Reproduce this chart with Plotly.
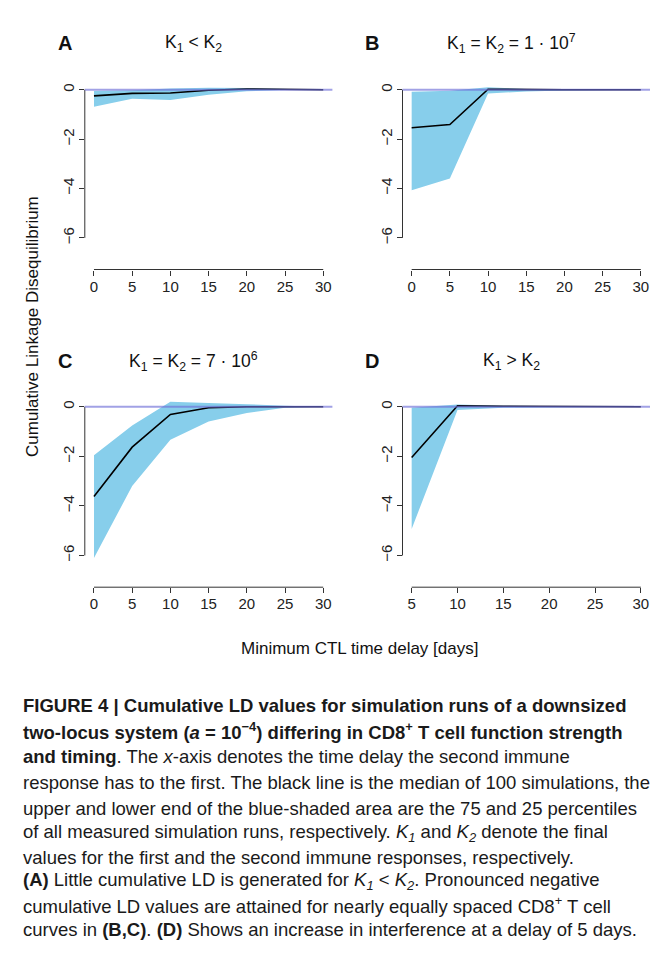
import plotly.graph_objects as go

W, H = 656, 955

# ---------------- data ----------------
delay_abc = [0, 5, 10, 15, 20, 25, 30]
delay_d = [5, 10, 15, 20, 25, 30]

median_a = [-0.25, -0.15, -0.13, -0.02, 0.03, 0.0, 0.0]
upper_a = [-0.05, -0.02, 0.05, 0.08, 0.07, 0.02, 0.0]
lower_a = [-0.69, -0.37, -0.42, -0.20, -0.06, -0.01, 0.0]

median_b = [-1.54, -1.41, 0.02, 0.0, 0.0, 0.0, 0.0]
upper_b = [-0.08, -0.04, 0.10, 0.03, 0.01, 0.0, 0.0]
lower_b = [-4.07, -3.60, -0.15, -0.07, -0.03, -0.01, 0.0]

median_c = [-3.62, -1.63, -0.31, -0.04, 0.0, 0.01, 0.0]
upper_c = [-1.96, -0.76, 0.20, 0.16, 0.10, 0.04, 0.0]
lower_c = [-6.10, -3.20, -1.33, -0.60, -0.25, -0.04, 0.0]

median_d = [-2.05, 0.04, 0.02, 0.01, 0.0, 0.0]
upper_d = [-0.04, 0.09, 0.04, 0.02, 0.01, 0.0]
lower_d = [-4.93, -0.13, -0.04, -0.02, -0.01, 0.0]

y_ticks = [0, -2, -4, -6]
titles = ["K<sub>1</sub> &lt; K<sub>2</sub>",
          "K<sub>1</sub> = K<sub>2</sub> = 1 · 10<sup>7</sup>",
          "K<sub>1</sub> = K<sub>2</sub> = 7 · 10<sup>6</sup>",
          "K<sub>1</sub> &gt; K<sub>2</sub>"]
letters = ["A", "B", "C", "D"]

caption_lines = [
    "<b>FIGURE 4 | Cumulative LD values for simulation runs of a downsized</b>",
    "<b>two-locus system (<i>a</i> = 10<sup>−4</sup>) differing in CD8<sup>+</sup> T cell function strength</b>",
    "<b>and timing</b>. The <i>x</i>-axis denotes the time delay the second immune",
    "response has to the first. The black line is the median of 100 simulations, the",
    "upper and lower end of the blue-shaded area are the 75 and 25 percentiles",
    "of all measured simulation runs, respectively. <i>K<sub>1</sub></i> and <i>K<sub>2</sub></i> denote the final",
    "values for the first and the second immune responses, respectively.",
    "<b>(A)</b> Little cumulative LD is generated for <i>K<sub>1</sub></i> &lt; <i>K<sub>2</sub></i>. Pronounced negative",
    "cumulative LD values are attained for nearly equally spaced CD8<sup>+</sup> T cell",
    "curves in <b>(B,C)</b>. <b>(D)</b> Shows an increase in interference at a delay of 5 days.",
]
caption_y = [705, 731, 756, 782, 808, 833, 857, 881, 905, 929]

# ---------------- layout helpers ----------------
def px(x):
    return x / W

def py(y):
    return 1 - y / H

FONT = "Liberation Sans, Arial, Helvetica, sans-serif"
CAPFONT = "Liberation Sans Narrow, Arial Narrow, Liberation Sans, sans-serif"
AXC = "#333333"
BAND = "#87CEEB"
ZERO = "rgba(110,110,215,0.65)"

panels = [
    dict(x=delay_abc, med=median_a, up=upper_a, lo=lower_a, xr=[-1.2, 31.2], xt=[0, 30],
         dom_x=(84.8, 332.4), dom_y=(82.8, 269.5), tx=193, ty=43, lx=65),
    dict(x=delay_abc, med=median_b, up=upper_b, lo=lower_b, xr=[-1.2, 31.2], xt=[0, 30],
         dom_x=(402.5, 650.0), dom_y=(82.8, 269.5), tx=511, ty=43, lx=372),
    dict(x=delay_abc, med=median_c, up=upper_c, lo=lower_c, xr=[-1.2, 31.2], xt=[0, 30],
         dom_x=(84.8, 332.4), dom_y=(399.8, 587.2), tx=193, ty=361, lx=65),
    dict(x=delay_d, med=median_d, up=upper_d, lo=lower_d, xr=[4, 31], xt=[5, 30],
         dom_x=(402.5, 650.0), dom_y=(399.8, 587.2), tx=511, ty=361, lx=372),
]

fig = go.Figure()
shapes = []
annotations = []

for i, p in enumerate(panels):
    n = "" if i == 0 else str(i + 1)
    xa, ya = "x" + n, "y" + n
    fig.add_trace(go.Scatter(x=p["x"], y=p["up"], mode="lines", line=dict(width=0, color=BAND),
                             xaxis=xa, yaxis=ya, showlegend=False, hoverinfo="skip"))
    fig.add_trace(go.Scatter(x=p["x"], y=p["lo"], mode="lines", line=dict(width=0, color=BAND),
                             fill="tonexty", fillcolor=BAND,
                             xaxis=xa, yaxis=ya, showlegend=False, hoverinfo="skip"))
    fig.add_trace(go.Scatter(x=p["x"], y=p["med"], mode="lines", line=dict(width=1.6, color="black"),
                             xaxis=xa, yaxis=ya, showlegend=False))

    fig.layout["xaxis" + n] = dict(
        domain=[px(p["dom_x"][0]), px(p["dom_x"][1])], range=p["xr"], anchor=ya,
        showgrid=False, zeroline=False, showline=False,
        tickmode="linear", tick0=p["xt"][0], dtick=5,
        ticks="outside", ticklen=5, tickcolor=AXC, tickwidth=1, ticklabelstandoff=-2,
        tickfont=dict(family=FONT, size=15, color="#222222"))
    fig.layout["yaxis" + n] = dict(
        domain=[py(p["dom_y"][1]), py(p["dom_y"][0])], range=[-7.28, 0.28], anchor=xa,
        showgrid=False, zeroline=False, showline=False,
        tickmode="array", tickvals=y_ticks, tickangle=-90,
        ticks="outside", ticklen=5, tickcolor=AXC, tickwidth=1, ticklabelstandoff=-1,
        tickfont=dict(family=FONT, size=15, color="#222222"))

    # R-style axis lines spanning tick range
    shapes.append(dict(type="line", xref=xa + " domain", yref=ya, x0=0, x1=0,
                       y0=min(y_ticks), y1=max(y_ticks), line=dict(color=AXC, width=1)))
    shapes.append(dict(type="line", xref=xa, yref=ya + " domain", x0=p["xt"][0], x1=p["xt"][1],
                       y0=0, y1=0, line=dict(color=AXC, width=1)))
    # zero reference line
    shapes.append(dict(type="line", xref=xa + " domain", yref=ya, x0=0, x1=1, y0=0, y1=0,
                       layer="above", line=dict(color=ZERO, width=2)))

    annotations.append(dict(text=titles[i], x=px(p["tx"]), y=py(p["ty"]), xref="paper", yref="paper",
                            xanchor="center", yanchor="middle", showarrow=False,
                            font=dict(family=FONT, size=17.5, color="#111111")))
    annotations.append(dict(text="<b>" + letters[i] + "</b>", x=px(p["lx"]), y=py(p["ty"]),
                            xref="paper", yref="paper", xanchor="center", yanchor="middle",
                            showarrow=False, font=dict(family=FONT, size=20, color="#111111")))

annotations.append(dict(text="Cumulative Linkage Disequilibrium", x=px(32), y=py(327),
                        xref="paper", yref="paper", textangle=-90, showarrow=False,
                        xanchor="center", yanchor="middle",
                        font=dict(family=FONT, size=17, color="#111111")))
annotations.append(dict(text="Minimum CTL time delay [days]", x=px(359), y=py(648),
                        xref="paper", yref="paper", showarrow=False,
                        xanchor="center", yanchor="middle",
                        font=dict(family=FONT, size=17, color="#111111")))

for line, yy in zip(caption_lines, caption_y):
    annotations.append(dict(text=line, x=px(21), y=py(yy), xref="paper", yref="paper",
                            xanchor="left", yanchor="middle", showarrow=False,
                            font=dict(family=CAPFONT, size=18.5, color="#1a1a1a")))

fig.update_layout(width=W, height=H, margin=dict(l=0, r=0, t=0, b=0),
                  paper_bgcolor="white", plot_bgcolor="white",
                  shapes=shapes, annotations=annotations, showlegend=False)

fig.write_html("out.html", config={"displayModeBar": False},
               post_script="document.body.style.margin='0';document.body.style.padding='0';")
